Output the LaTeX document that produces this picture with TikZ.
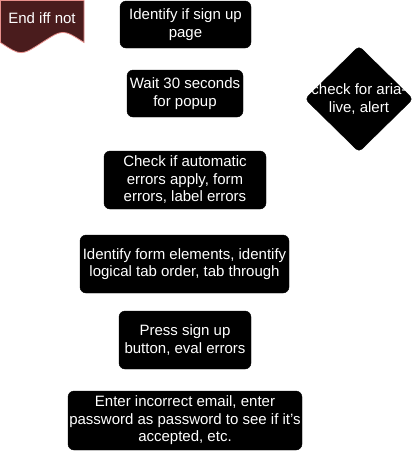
\documentclass[tikz,border=0pt]{standalone}
\usepackage{fontspec}
\setmainfont{Liberation Sans}
\usepackage{tikz}
\usetikzlibrary{shapes.geometric,positioning}
\definecolor{enddark}{HTML}{4A1C1D}
\definecolor{endline}{HTML}{E8908C}

\tikzset{
    stepbox/.style={draw=black, fill=black, text=white, rounded corners=6pt,
                    align=center, inner sep=0pt, font=\fontsize{15}{17.5}\selectfont},
    checkbox/.style={diamond, aspect=1, draw=black, fill=black,
                     rounded corners=4pt, inner sep=0pt},
    whitetext/.style={text=white, align=center, inner sep=0pt,
                      font=\fontsize{15}{17.5}\selectfont}
}

\begin{document}
\begin{tikzpicture}[x=1pt, y=-1pt]
        \useasboundingbox (0,0) rectangle (416,451);
        % end marker (document shape)
        \draw[draw=endline, fill=enddark, line width=0.8pt]
            (0.5,0.5) -- (84,0.5) -- (84,42.5)
            .. controls (63,29) .. (42,42.5)
            .. controls (21,56) .. (0.5,42.5) -- cycle;
        \node[whitetext] (endnot) at (42,18) {End iff not};
        % steps
        \node[stepbox, minimum width=131pt, minimum height=47pt] (signup) at (185.5,24.5)
            {Identify if sign up\\page};
        \node[stepbox, minimum width=116pt, minimum height=47pt] (wait) at (185,93.5)
            {Wait 30 seconds\\for popup};
        \node[stepbox, minimum width=162pt, minimum height=58pt] (autoerr) at (185,180)
            {Check if automatic\\errors apply, form\\errors, label errors};
        \node[stepbox, minimum width=209pt, minimum height=58pt] (formel) at (184.5,264)
            {Identify form elements, identify\\logical tab order, tab through};
        \node[stepbox, minimum width=132pt, minimum height=58pt] (press) at (185,340)
            {Press sign up\\button, eval errors};
        \node[stepbox, minimum width=234pt, minimum height=59pt] (enter) at (185,420.5)
            {Enter incorrect email, enter\\password as password to see if it's\\accepted, etc.};
        % check
        \node[checkbox, minimum width=108pt, minimum height=106pt] (aria) at (359,99) {};
        \node[whitetext] (arialabel) at (aria.center) {check for aria-\\live, alert};
    \end{tikzpicture}
\end{document}
